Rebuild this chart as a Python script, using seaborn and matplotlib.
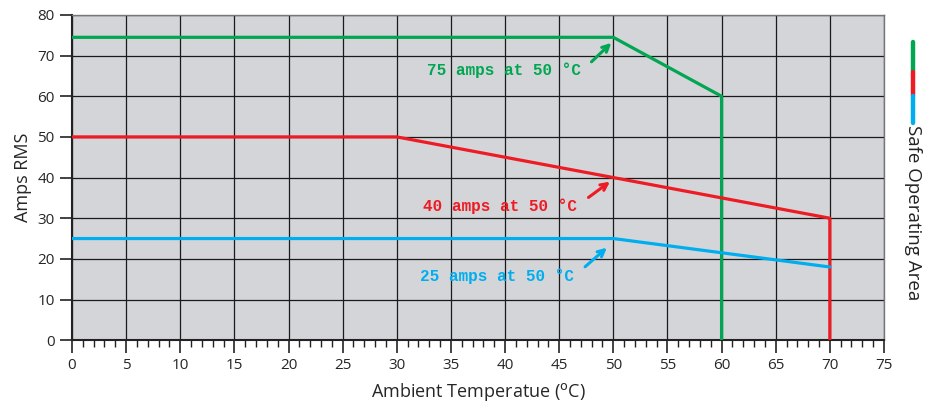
import matplotlib
matplotlib.use("Agg")
import matplotlib.pyplot as plt
import seaborn as sns
import pandas as pd
from matplotlib.ticker import MultipleLocator

# derating curves (temperature in C, current in A RMS)
green_temp = [0, 50, 60, 60]
green_amps = [74.5, 74.5, 60, 0]
red_temp = [0, 30, 70, 70]
red_amps = [50, 50, 30, 0]
blue_temp = [0, 50, 70]
blue_amps = [25, 25, 18]

labels = ["75 amps at 50 °C", "40 amps at 50 °C", "25 amps at 50 °C"]
label_xy = [(32.8, 66.5), (32.4, 33.0), (32.1, 15.8)]
arrow_tail = [(47.8, 68.0), (47.5, 34.7), (47.2, 17.6)]
arrow_head = [(50.0, 73.6), (49.9, 39.4), (49.6, 23.2)]

GREEN = "#00a651"
RED = "#ed1c24"
BLUE = "#00aeef"
colors = [GREEN, RED, BLUE]

sns.set_style("white")
plt.rcParams["font.family"] = ["Open Sans", "DejaVu Sans"]

fig = plt.figure(figsize=(9.29, 4.04), dpi=100)
ax = fig.add_axes([0.0775, 0.158, 0.874, 0.805])
ax.set_facecolor("#d4d5d8")

curves = [(green_temp, green_amps), (red_temp, red_amps), (blue_temp, blue_amps)]
for (t, a), c in zip(curves, colors):
    df = pd.DataFrame({"temp": t, "amps": a})
    sns.lineplot(data=df, x="temp", y="amps", sort=False, estimator=None,
                 errorbar=None, color=c, linewidth=2.3, ax=ax, zorder=3)

ax.set_xlim(0, 75)
ax.set_ylim(0, 80)
ax.xaxis.set_major_locator(MultipleLocator(5))
ax.xaxis.set_minor_locator(MultipleLocator(1))
ax.yaxis.set_major_locator(MultipleLocator(10))
ax.grid(True, which="major", color="#1a1a1a", linewidth=0.9)
ax.set_axisbelow(True)

ax.tick_params(axis="x", which="major", direction="out", length=9, width=1.2,
               color="#222222", labelsize=11, bottom=True)
ax.tick_params(axis="x", which="minor", direction="out", length=5, width=1.0,
               color="#222222", bottom=True)
ax.tick_params(axis="y", which="major", direction="out", length=9, width=1.2,
               color="#222222", labelsize=11, left=True)

for side in ["left", "bottom"]:
    ax.spines[side].set_color("#222222")
    ax.spines[side].set_linewidth(1.5)
for side in ["top", "right"]:
    ax.spines[side].set_color("#777777")
    ax.spines[side].set_linewidth(1.0)

ax.set_xlabel("Ambient Temperatue ($^{\\mathrm{o}}$C)", fontsize=13, labelpad=6)
ax.set_ylabel("Amps RMS", fontsize=13, labelpad=4)

for lab, xy, tail, head, c in zip(labels, label_xy, arrow_tail, arrow_head, colors):
    ax.text(xy[0], xy[1], lab, color=c, fontsize=11.5, fontweight="bold",
            family="Liberation Mono", va="center", ha="left", zorder=4)
    ax.annotate("", xy=head, xytext=tail,
                arrowprops=dict(arrowstyle="->", color=c, lw=2.2,
                                mutation_scale=12), zorder=4)

# side marker for the safe operating area
bar_x = 913 / 929
segs = [(42, 72, GREEN), (72, 96, RED), (96, 123, BLUE)]
for y0, y1, c in segs:
    fig.add_artist(plt.Line2D([bar_x, bar_x], [1 - y0 / 404, 1 - y1 / 404],
                              color=c, linewidth=3.2, transform=fig.transFigure))
fig.text(bar_x, 1 - 125 / 404, "Safe Operating Area", rotation=-90,
         ha="center", va="top", fontsize=13.5, color="#222222")

fig.savefig("out.png", dpi=100)
